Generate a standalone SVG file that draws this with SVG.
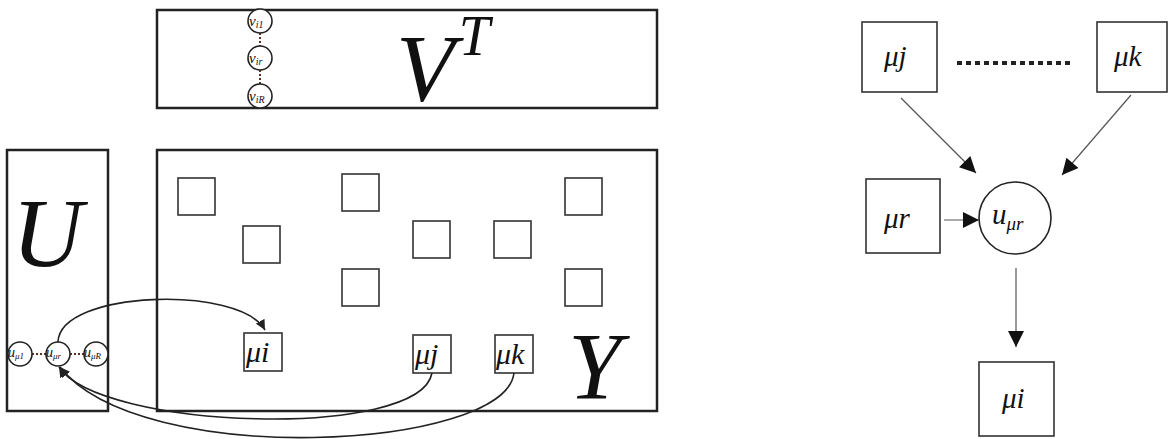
<svg xmlns="http://www.w3.org/2000/svg" width="1169" height="439" viewBox="0 0 1169 439">
<defs>
<style>
.big{fill:none;stroke:#222;stroke-width:2.5}
.sq{fill:none;stroke:#333;stroke-width:1.6}
.rsq{fill:#fff;stroke:#333;stroke-width:1.6}
.cir{fill:#fff;stroke:#222;stroke-width:1.6}
.dot{stroke:#5a3020;stroke-width:2;stroke-dasharray:2 2}
.m{font-family:"Liberation Serif","DejaVu Serif",serif;font-style:italic;fill:#111}
.edge{fill:none;stroke:#222;stroke-width:1.6}
.gedge{fill:none;stroke:#555;stroke-width:1.2}
</style>
<marker id="ah" viewBox="0 0 10 10" refX="10" refY="5" markerWidth="10" markerHeight="10" markerUnits="userSpaceOnUse" orient="auto"><path d="M0,0 L10,5 L0,10 Z" fill="#222"/></marker>
<marker id="bh" viewBox="0 0 10 10" refX="10" refY="5" markerWidth="19" markerHeight="16" markerUnits="userSpaceOnUse" orient="auto"><path d="M0,0 L10,5 L0,10 Z" fill="#111"/></marker>
</defs>

<g id="VT">
<rect class="big" x="157" y="10" width="500" height="98"/>
<line class="dot" x1="260" y1="33" x2="260" y2="46"/>
<line class="dot" x1="260" y1="70" x2="260" y2="84"/>
<circle class="cir" cx="260" cy="21" r="12"/>
<circle class="cir" cx="260" cy="58" r="12"/>
<circle class="cir" cx="260" cy="96" r="12"/>
<text class="m" x="249" y="26" font-size="15">v<tspan font-size="10" dy="2">i1</tspan></text>
<text class="m" x="249" y="63" font-size="15">v<tspan font-size="10" dy="2">ir</tspan></text>
<text class="m" x="249" y="101" font-size="15">v<tspan font-size="10" dy="2">iR</tspan></text>
<text class="m" x="396" y="101" font-size="96">V<tspan font-size="56" dx="4" dy="-46">T</tspan></text>
</g>

<g id="U">
<rect class="big" x="7" y="150" width="101" height="261"/>
<text class="m" x="12" y="266" font-size="98">U</text>
<line class="dot" x1="32" y1="354" x2="46" y2="354"/>
<line class="dot" x1="70" y1="354" x2="84" y2="354"/>
<circle class="cir" cx="20" cy="354" r="12"/>
<circle class="cir" cx="58" cy="354" r="12"/>
<circle class="cir" cx="96" cy="354" r="12"/>
<text class="m" x="8" y="357" font-size="14">u<tspan font-size="9" dy="2">μ1</tspan></text>
<text class="m" x="46" y="357" font-size="14">u<tspan font-size="9" dy="2">μr</tspan></text>
<text class="m" x="84" y="357" font-size="14">u<tspan font-size="9" dy="2">μR</tspan></text>
</g>

<g id="Y">
<rect class="big" x="157" y="150" width="500" height="261"/>
<text class="m" x="568" y="399" font-size="96">Y</text>
<rect class="sq" x="178" y="178" width="37" height="37"/>
<rect class="sq" x="243" y="226" width="37" height="37"/>
<rect class="sq" x="342" y="174" width="37" height="37"/>
<rect class="sq" x="413" y="221" width="37" height="37"/>
<rect class="sq" x="494" y="221" width="37" height="37"/>
<rect class="sq" x="565" y="178" width="37" height="37"/>
<rect class="sq" x="342" y="269" width="37" height="37"/>
<rect class="sq" x="565" y="269" width="37" height="37"/>
</g>
<g id="Y-mui">
<rect class="sq" x="244" y="333" width="38" height="38"/>
<text class="m" x="246" y="362" font-size="30">μi</text>
</g>
<g id="Y-muj">
<rect class="sq" x="413" y="335" width="38" height="38"/>
<text class="m" x="415" y="364" font-size="30">μj</text>
</g>
<g id="Y-muk">
<rect class="sq" x="495" y="335" width="38" height="38"/>
<text class="m" x="496" y="364" font-size="30">μk</text>
</g>

<g id="R-muj">
<rect class="rsq" x="862" y="22" width="75" height="70"/>
<text class="m" x="884" y="66" font-size="29">μj</text>
</g>
<g id="R-muk">
<rect class="rsq" x="1097" y="22" width="70" height="70"/>
<text class="m" x="1114" y="66" font-size="29">μk</text>
</g>
<g id="R-mur">
<rect class="rsq" x="866" y="179" width="74" height="74"/>
<text class="m" x="884" y="228" font-size="29">μr</text>
</g>
<g id="R-umur">
<circle class="cir" cx="1015" cy="218" r="36"/>
<text class="m" x="992" y="224" font-size="29">u<tspan font-size="19" dy="6">μr</tspan></text>
</g>
<g id="R-mui">
<rect class="rsq" x="979" y="362" width="75" height="74"/>
<text class="m" x="1002" y="408" font-size="29">μi</text>
</g>

<g id="connectors">
<path class="edge" d="M58,342 C60,290 240,285 265,330" marker-end="url(#ah)"/>
<path class="edge" d="M432,373 C420,440 100,430 59,367" marker-end="url(#ah)"/>
<path class="edge" d="M514,373 C505,450 140,470 60,367" marker-end="url(#ah)"/>
<line x1="957" y1="63" x2="1072" y2="63" stroke="#222" stroke-width="4" stroke-dasharray="5 4"/>
<line class="gedge" x1="901" y1="98" x2="976" y2="173" marker-end="url(#bh)"/>
<line class="gedge" x1="1131" y1="95" x2="1062" y2="175" marker-end="url(#bh)"/>
<line class="gedge" x1="944" y1="220" x2="979" y2="220" marker-end="url(#bh)"/>
<line class="gedge" x1="1016" y1="268" x2="1016" y2="347" marker-end="url(#bh)"/>
</g>
</svg>
